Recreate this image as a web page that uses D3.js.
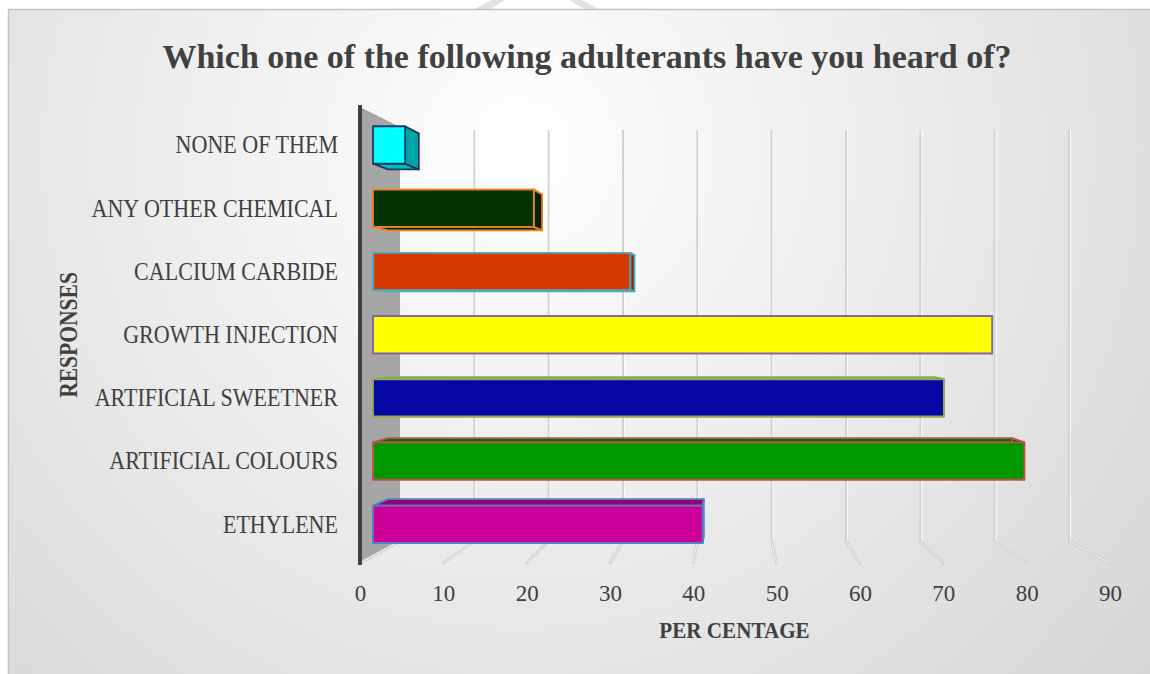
<!DOCTYPE html>
<html>
<head>
<meta charset="utf-8">
<script src="https://cdn.jsdelivr.net/npm/d3@7"></script>
<style>
  html, body { margin: 0; padding: 0; background: #ffffff; }
  svg { display: block; }
</style>
</head>
<body>
<svg id="chart" width="1150" height="674"></svg>
<script>
// ---- data ----
const categories = [
  "NONE OF THEM",
  "ANY OTHER CHEMICAL ",
  "CALCIUM CARBIDE",
  "GROWTH INJECTION",
  "ARTIFICIAL SWEETNER",
  "ARTIFICIAL COLOURS",
  "ETHYLENE"
];
const values = [4, 20, 32, 77, 71, 81, 41];
const tickValues = [0, 10, 20, 30, 40, 50, 60, 70, 80, 90];
const chartTitle = "Which one of the following adulterants have you heard of?";
const xAxisTitle = "PER CENTAGE";
const yAxisTitle = "RESPONSES";

// ---- styles ----
const barFills   = ["#00FFFF", "#003300", "#D43A02", "#FFFF00", "#0707A3", "#009A00", "#CC0099"];
const barStrokes = ["#1F3864", "#F07F20", "#4BACC6", "#8064A2", "#8FAA55", "#C0504D", "#4F81BD"];
const textColor = "#404040";
const serif = "'Liberation Serif', 'DejaVu Serif', serif";

const svg = d3.select("#chart");
const defs = svg.append("defs");

// chart area background
const bg = defs.append("radialGradient")
  .attr("id", "bgGrad")
  .attr("gradientUnits", "userSpaceOnUse")
  .attr("cx", 520).attr("cy", 150).attr("r", 820);
bg.append("stop").attr("offset", "0%").attr("stop-color", "#ffffff");
bg.append("stop").attr("offset", "100%").attr("stop-color", "#d6d6d6");

svg.append("rect").attr("width", 1150).attr("height", 674).attr("fill", "#ffffff");

// faint mark above the chart frame
svg.append("path")
  .attr("d", "M473,10 L492,0 L505,0 L488,10 Z M601,10 L582,0 L569,0 L586,10 Z")
  .attr("fill", "#e2e2e2");

svg.append("rect")
  .attr("x", 8.5).attr("y", 9.5)
  .attr("width", 1160).attr("height", 680)
  .attr("fill", "url(#bgGrad)")
  .attr("stroke", "#c4c4c4").attr("stroke-width", 1.5);

// ---- 3D projection: value on x, band position t (0..1) on y, depth z (0 front .. 1 back) ----
const xFront = d3.scaleLinear().domain([0, 90]).range([360, 1110]);
const xBack  = d3.scaleLinear().domain([0, 90]).range([400, 1069]);
const yFront = d3.scaleLinear().domain([0, 1]).range([107, 563]);
const yBack  = d3.scaleLinear().domain([0, 1]).range([127, 541]);
const band = d3.scaleBand().domain(categories).range([0, 1])
  .paddingInner(0.41).paddingOuter(0.205);

function project(v, t, z) {
  const xf = xFront(v), xb = xBack(v);
  const yf = yFront(t), yb = yBack(t);
  return [xf + (xb - xf) * z, yf + (yb - yf) * z];
}
const poly = pts => "M" + pts.map(p => p[0].toFixed(2) + "," + p[1].toFixed(2)).join("L") + "Z";

// ---- side wall ----
svg.append("path")
  .attr("d", poly([project(0, 0, 0), project(0, 0, 1), project(0, 1, 1), project(0, 1, 0)]))
  .attr("fill", "#a6a6a6");

// ---- back wall gridlines ----
const grid = svg.append("g");
tickValues.filter(v => v > 0).forEach(v => {
  const top = project(v, 0, 1), bot = project(v, 1, 1);
  grid.append("line")
    .attr("x1", top[0]).attr("y1", top[1] + 3).attr("x2", bot[0]).attr("y2", bot[1])
    .attr("stroke", "#d2d2d2").attr("stroke-width", 2);
  grid.append("line")
    .attr("x1", top[0] + 1.5).attr("y1", top[1] + 3).attr("x2", bot[0] + 1.5).attr("y2", bot[1])
    .attr("stroke", "#fbfbfb").attr("stroke-width", 1);
});

// ---- floor lines ----
const floor = svg.append("g");
tickValues.forEach(v => {
  const back = project(v, 1, 1), front = project(v, 1, 0);
  floor.append("line")
    .attr("x1", back[0]).attr("y1", back[1]).attr("x2", front[0]).attr("y2", front[1])
    .attr("stroke", "#c9c9c9").attr("stroke-width", 2.6).attr("stroke-linecap", "round");
  floor.append("line")
    .attr("x1", back[0]).attr("y1", back[1]).attr("x2", front[0]).attr("y2", front[1])
    .attr("stroke", "#f8f8f8").attr("stroke-width", 1);
});

// front edge of the wall
svg.append("rect")
  .attr("x", 358).attr("y", 105).attr("width", 4).attr("height", 460)
  .attr("fill", "#404040");

// ---- bars ----
const zNear = 0.325, zFar = 0.70;
const bars = svg.append("g");
categories.forEach((cat, i) => {
  const v = values[i];
  const t0 = band(cat), t1 = t0 + band.bandwidth();
  const A = project(0, t0, zNear), B = project(v, t0, zNear),
        C = project(v, t1, zNear), D = project(0, t1, zNear);
  const A2 = project(0, t0, zFar), B2 = project(v, t0, zFar),
        C2 = project(v, t1, zFar), D2 = project(0, t1, zFar);
  const base = d3.color(barFills[i]);
  const g = bars.append("g")
    .attr("stroke", barStrokes[i]).attr("stroke-width", 1.8).attr("stroke-linejoin", "round");
  g.append("path").attr("d", poly([A, B, B2, A2])).attr("fill", base.darker(0.85));
  g.append("path").attr("d", poly([D, C, C2, D2])).attr("fill", base.darker(0.85));
  g.append("path").attr("d", poly([B, C, C2, B2])).attr("fill", base.darker(1.2));
  g.append("path").attr("d", poly([A, B, C, D])).attr("fill", base);
});

// ---- axes ----
const yLabelScale = d3.scaleBand().domain(categories)
  .range([project(0, 0, zNear)[1], project(0, 1, zNear)[1]])
  .paddingInner(0.41).paddingOuter(0.205);

const yAxis = svg.append("g")
  .attr("transform", "translate(338,0)")
  .call(d3.axisLeft(yLabelScale).tickSize(0).tickPadding(0));
yAxis.select(".domain").remove();
yAxis.selectAll("text")
  .attr("x", 0).attr("dy", "0.34em")
  .attr("transform", "scale(0.9,1)")
  .attr("font-family", serif).attr("font-size", 24.5)
  .attr("fill", textColor).attr("text-anchor", "end");

const xAxis = svg.append("g")
  .attr("transform", "translate(0,584)")
  .call(d3.axisBottom(xFront).tickValues(tickValues).tickSize(0).tickPadding(0));
xAxis.select(".domain").remove();
xAxis.selectAll("text")
  .attr("y", 17).attr("dy", 0)
  .attr("font-family", serif).attr("font-size", 23)
  .attr("fill", textColor);

// ---- titles ----
svg.append("text")
  .attr("x", 587).attr("y", 68)
  .attr("text-anchor", "middle")
  .attr("font-family", serif).attr("font-weight", "bold").attr("font-size", 34)
  .attr("fill", textColor)
  .text(chartTitle);

svg.append("g").attr("transform", "translate(734.5,638)")
  .append("text")
  .attr("transform", "scale(0.88,1)")
  .attr("text-anchor", "middle")
  .attr("font-family", serif).attr("font-weight", "bold").attr("font-size", 24)
  .attr("fill", textColor)
  .text(xAxisTitle);

svg.append("g").attr("transform", "translate(77,335) rotate(-90)")
  .append("text")
  .attr("transform", "scale(0.88,1)")
  .attr("text-anchor", "middle")
  .attr("font-family", serif).attr("font-weight", "bold").attr("font-size", 24.5)
  .attr("fill", textColor)
  .text(yAxisTitle);
</script>
</body>
</html>
